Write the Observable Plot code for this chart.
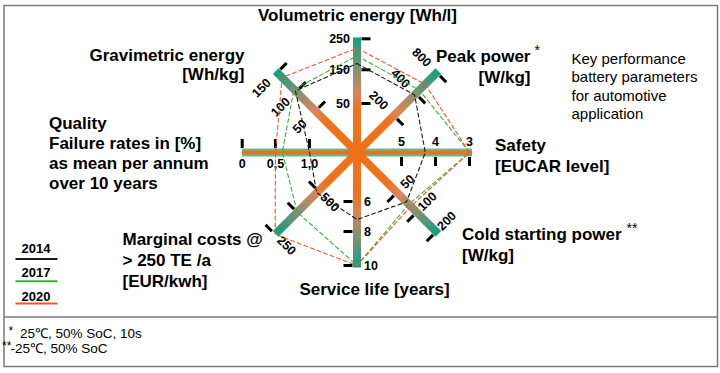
<!DOCTYPE html>
<html><head><meta charset="utf-8">
<script src="https://cdn.jsdelivr.net/npm/d3@7"></script>
<script src="https://cdn.jsdelivr.net/npm/@observablehq/plot@0.6"></script>
<style>body{margin:0;background:#fff}svg{display:block}</style>
</head><body><div id="chart"></div>
<script>
// ---------------- data ----------------
const axisNames = ["Volumetric energy", "Peak power", "Safety", "Cold starting power", "Service life", "Marginal costs", "Quality", "Gravimetric energy"];
const tickValues = [[50,150,250],[200,400,800],[5,4,3],[50,100,200],[6,8,10],[500,375,250],[1.0,0.5,0],[50,100,150]];
const tickLabels = [["50","150","250"],["200","400","800"],["5","4","3"],["50","100","200"],["6","8","10"],["500","","250"],["1,0","0,5","0"],["50","100","150"]];
const years = ["2014","2017","2020"];
const values2014 = [170, 390, 4.3, 74, 7.2, 490, 1.0, 102];
const values2017 = [195, 470, 3, 80, 10, 375, 0.6, 106];
const values2020 = [220, 580, 3, 85, 10, 250, 0.5, 137];
const titleText = "Volumetric energy [Wh/l]";
const noteText = ["Key performance", "battery parameters", "for automotive", "application"];
const footnotes = ["25℃, 50% SoC, 10s", "-25℃, 50% SoC"];

// ---------------- layout ----------------
const W = 720, H = 373;
const cx = 356.5, cy = 152;
const spokeLen = 115;
const angles = [0,45,90,135,180,225,270,315];
const tickRadii = [[49,82.7,113.7],[52,83,112.8],[44.5,78.5,112.5],[56.5,84.5,112],[49,79,113],[54.5,84.5,115.8],[47.5,81.5,114.8],[58.7,86,113]];
const labelOffset = [7,21.5,10.5,15,7,16,11,22];
const colors = {"2014":"#1a1a1a","2017":"#3cae3c","2020":"#f0562e"};
const teal = "#10a07e", orange = "#f07016";

const axisScale = tickValues.map((d,i) => d3.scaleLinear().domain(d).range(tickRadii[i]));
function pt(i, r, p = 0) {
  const t = angles[i] * Math.PI / 180, ux = Math.sin(t), uy = -Math.cos(t);
  return {x: cx + r*ux - p*uy, y: cy + r*uy + p*ux};
}
const isHoriz = i => angles[i] === 90 || angles[i] === 270;

// spokes
const spokes = axisNames.map((name,i) => {
  const e = pt(i, spokeLen);
  return {i, id: "spoke" + i, x1: cx, y1: cy, x2: e.x, y2: e.y, grad: `url(#spoke${i})`};
});
// ticks & labels
const ticks = [], labels = [];
axisNames.forEach((name,i) => {
  tickValues[i].forEach((v,k) => {
    const r = axisScale[i](v);
    const a = pt(i, r, 4.5), b = pt(i, r, 13.5);
    ticks.push({x1: a.x, y1: a.y, x2: b.x, y2: b.y});
    const l = pt(i, r, -labelOffset[i]);
    const ang = angles[i];
    let anchor = "middle", rot = 0;
    if (ang === 0) anchor = "end";
    else if (ang === 180) anchor = "start";
    else if (ang % 90 !== 0) rot = ((ang + 90) % 180) - 90;
    labels.push({x: l.x, y: l.y, text: tickLabels[i][k], anchor, rot});
  });
});
// polygons
const seriesValues = {"2014": values2014, "2017": values2017, "2020": values2020};
const poly = years.flatMap(y => seriesValues[y].map((v,i) => ({year: y, ...pt(i, axisScale[i](v))})));

// annotations [text, x, y, anchor, size, weight]
const B = "bold", N = "normal";
const ann = [
  [titleText, 357, 15.5, "middle", 17, B],
  ["Gravimetric energy", 244, 55, "end", 17, B],
  ["[Wh/kg]", 244, 74.5, "end", 17, B],
  ["Peak power", 530, 56, "end", 17, B],
  ["*", 534, 50, "start", 14, N],
  ["[W/kg]", 530, 77, "end", 17, B],
  ...noteText.map((t,k) => [t, 571, 58.5 + k*18.4, "start", 15, N]),
  ["Quality", 48.5, 123.5, "start", 17, B],
  ["Failure rates in [%]", 48.5, 143, "start", 17, B],
  ["as mean per annum", 48.5, 163, "start", 17, B],
  ["over 10 years", 48.5, 183.5, "start", 17, B],
  ["Safety", 494.5, 145, "start", 17, B],
  ["[EUCAR level]", 494.5, 166, "start", 17, B],
  ["Cold starting power", 461.5, 234.5, "start", 17, B],
  ["**", 626, 228, "start", 14, N],
  ["[W/kg]", 461.5, 255, "start", 17, B],
  ["Marginal costs @", 122, 239.5, "start", 17, B],
  ["> 250 TE /a", 122, 260, "start", 17, B],
  ["[EUR/kwh]", 122, 281.5, "start", 17, B],
  ["Service life [years]", 374, 289.5, "middle", 17, B],
  ["*", 8, 331, "start", 12, N],
  [footnotes[0], 19.5, 333, "start", 13.5, N],
  ["**", 1.5, 346, "start", 12, N],
  [footnotes[1], 10, 348, "start", 13.5, N]
];
const legendRows = years.map((y,k) => ({year: y, tx: 35.5, ty: 248 + k*24.2, ly: 258.5 + k*22.2, x1: 15, x2: 57}));

const annMarks = ann.map(([text,x,y,anchor,size,weight]) =>
  Plot.text([{text,x,y}], {x:"x", y:"y", text:"text", textAnchor: anchor, fontSize: size, fontWeight: weight, fill: "#000", fontFamily: "Liberation Sans, Arial, sans-serif"}));

const chart = Plot.plot({
  width: W, height: H, margin: 0,
  x: {domain: [0, W], range: [0, W], axis: null},
  y: {domain: [0, H], range: [0, H], axis: null},
  color: {type: "identity"},
  style: {fontFamily: "Liberation Sans, Arial, sans-serif", background: "#fff"},
  marks: [
    // frames
    Plot.rect([{x1: 4, x2: 717.5, y1: 5.5, y2: 366.5}], {x1:"x1", x2:"x2", y1:"y1", y2:"y2", fill: "none", stroke: "#7a7a7a", strokeWidth: 1.5}),
    Plot.ruleY([316.5], {x1: 4, x2: 717.5, stroke: "#7a7a7a", strokeWidth: 1.5}),
    // horizontal spokes
    Plot.link(spokes.filter(s => isHoriz(s.i)), {x1:"x1", y1:"y1", x2:"x2", y2:"y2", stroke: "#5cbca2", strokeWidth: 8, strokeLinecap: "butt"}),
    Plot.link(spokes.filter(s => isHoriz(s.i)), {x1:"x1", y1:"y1", x2:"x2", y2:"y2", stroke: orange, strokeWidth: 4, strokeLinecap: "butt"}),
    // gradient spokes
    Plot.link(spokes.filter(s => !isHoriz(s.i)), {x1:"x1", y1:"y1", x2:"x2", y2:"y2", stroke: "grad", strokeWidth: 8, strokeLinecap: "butt"}),
    // ticks
    Plot.link(ticks, {x1:"x1", y1:"y1", x2:"x2", y2:"y2", stroke: "#000", strokeWidth: 3, strokeLinecap: "butt"}),
    // tick labels
    ...["start","middle","end"].map(a => Plot.text(labels.filter(d => d.anchor === a), {x:"x", y:"y", text:"text", rotate:"rot", textAnchor: a, fontSize: 12.5, fontWeight: "bold", fill: "#000"})),
    // polygons
    ...years.map(y => Plot.line(poly.filter(d => d.year === y), {x:"x", y:"y", curve: "linear-closed", stroke: colors[y], strokeWidth: 1.1, strokeDasharray: "4,3"})),
    // legend
    Plot.text(legendRows, {x:"tx", y:"ty", text:"year", fontSize: 13, fontWeight: "bold", fill: "#000"}),
    Plot.link(legendRows, {x1:"x1", x2:"x2", y1:"ly", y2:"ly", stroke: d => colors[d.year], strokeWidth: 2}),
    ...annMarks
  ]
});

// gradient definitions along each spoke (positions through the plot's scales)
const sx = d3.scaleLinear(chart.scale("x").domain, chart.scale("x").range);
const sy = d3.scaleLinear(chart.scale("y").domain, chart.scale("y").range);
const defs = d3.select(chart).insert("defs", ":first-child");
const stops = [[0, orange],[0.38, "#ee731c"],[0.52, "#d8865a"],[0.7, "#8e8f70"],[0.87, "#47987a"],[1, teal]];
spokes.forEach(s => {
  const g = defs.append("linearGradient").attr("id", s.id).attr("gradientUnits", "userSpaceOnUse")
    .attr("x1", sx(s.x1)).attr("y1", sy(s.y1)).attr("x2", sx(s.x2)).attr("y2", sy(s.y2));
  stops.forEach(([o,c]) => g.append("stop").attr("offset", o).attr("stop-color", c));
});
document.getElementById("chart").append(chart);
</script>
</body></html>
